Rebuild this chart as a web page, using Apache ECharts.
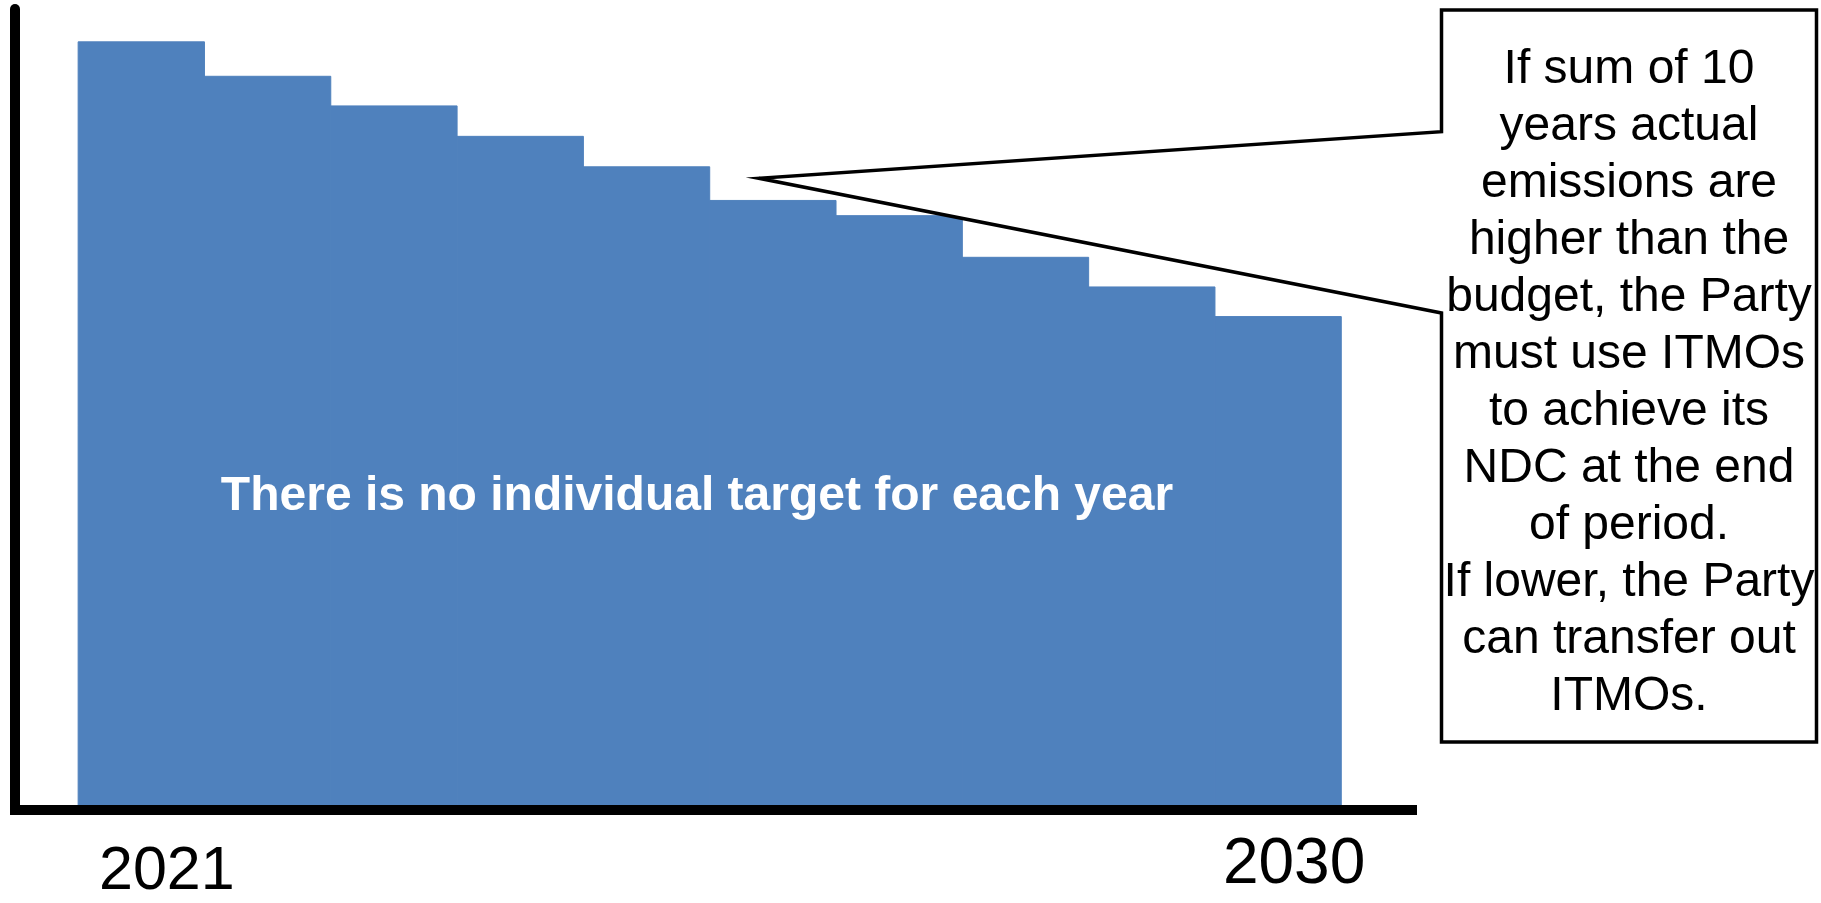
<!DOCTYPE html>
<html>
<head>
<meta charset="utf-8">
<script src="https://cdn.jsdelivr.net/npm/echarts@6/dist/echarts.min.js"></script>
<style>
html,body{margin:0;padding:0;background:#fff;}
#chart{width:1821px;height:903px;}
</style>
</head>
<body>
<div id="chart"></div>
<script>
// ---- data ----
const years = [2021, 2022, 2023, 2024, 2025, 2026, 2027, 2028, 2029, 2030];
const budget = [95.9, 91.6, 87.9, 84.1, 80.3, 76.1, 74.2, 69.0, 65.3, 61.6];
const shownYearLabels = [2021, 2030];
const centerText = 'There is no individual target for each year';
const calloutLines = [
  'If sum of 10',
  'years actual',
  'emissions are',
  'higher than the',
  'budget, the Party',
  'must use ITMOs',
  'to achieve its',
  'NDC at the end',
  'of period.',
  'If lower, the Party',
  'can transfer out',
  'ITMOs.'
];

const chart = echarts.init(document.getElementById('chart'));
const FONT = '"Liberation Sans", Arial, Helvetica, sans-serif';

const option = {
  backgroundColor: '#ffffff',
  animation: false,
  grid: { left: 15, right: 409, top: 9, bottom: 89, containLabel: false },
  xAxis: {
    type: 'value',
    min: 2020,
    max: 2031.06,
    interval: 1,
    z: 5,
    axisLine: { show: true, onZero: false, lineStyle: { color: '#000', width: 10, cap: 'square' } },
    axisTick: { show: false },
    splitLine: { show: false },
    axisLabel: {
      margin: 23,
      showMinLabel: false,
      showMaxLabel: false,
      formatter: function (v) {
        const r = Math.round(v);
        if (Math.abs(v - r) > 1e-6) return '';
        if (r === shownYearLabels[0]) return '{a|' + r + '}';
        if (r === shownYearLabels[1]) return '{b|' + r + '}';
        return '';
      },
      rich: {
        a: { fontFamily: FONT, fontSize: 61, lineHeight: 61, color: '#000', padding: [18, 0, 0, 51] },
        b: { fontFamily: FONT, fontSize: 64, lineHeight: 64, color: '#000', padding: [0, 0, 0, 32] }
      }
    }
  },
  yAxis: {
    type: 'value',
    min: 0,
    max: 100,
    z: 5,
    axisLine: { show: true, onZero: false, lineStyle: { color: '#000', width: 10 } },
    axisTick: { show: false },
    axisLabel: { show: false },
    splitLine: { show: false }
  },
  series: [{
    type: 'custom',
    data: years.map((y, i) => [y, budget[i]]),
    encode: { x: 0, y: 1 },
    z: 2,
    renderItem: function (params, api) {
      const x = api.value(0);
      const v = api.value(1);
      const p0 = api.coord([x - 0.5, v]);
      const p1 = api.coord([x + 0.5, 0]);
      return {
        type: 'rect',
        shape: { x: p0[0], y: p0[1], width: p1[0] - p0[0], height: p1[1] - p0[1] },
        style: { fill: '#4F81BD', stroke: '#4F81BD', lineWidth: 1 }
      };
    }
  }],
  graphic: [
    {
      type: 'text',
      z: 100,
      style: {
        text: centerText,
        x: 697, y: 497,
        align: 'center', verticalAlign: 'middle',
        fontFamily: FONT, fontSize: 48, fontWeight: 'bold',
        fill: '#ffffff'
      }
    },
    {
      type: 'polygon',
      z: 100,
      shape: {
        points: [
          [1441.5, 10], [1816.5, 10], [1816.5, 742], [1441.5, 742],
          [1441.5, 313], [759, 178.3], [1441.5, 131.7]
        ]
      },
      style: { fill: '#ffffff', stroke: '#000000', lineWidth: 3.5, lineJoin: 'miter' }
    },
    {
      type: 'text',
      z: 101,
      style: {
        text: calloutLines.join('\n'),
        x: 1629, y: 383,
        align: 'center', verticalAlign: 'middle',
        fontFamily: FONT, fontSize: 48, lineHeight: 57,
        fill: '#000000'
      }
    }
  ]
};
chart.setOption(option);
</script>
</body>
</html>
